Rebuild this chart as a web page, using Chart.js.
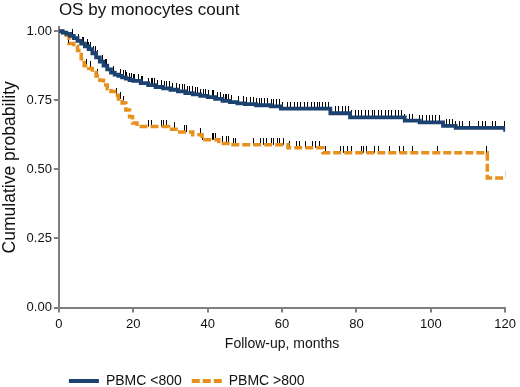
<!DOCTYPE html>
<html><head><meta charset="utf-8">
<script src="https://cdn.jsdelivr.net/npm/chart.js@4/dist/chart.umd.min.js"></script>
<style>html,body{margin:0;padding:0;background:#fff}canvas{display:block}</style>
</head><body>
<canvas id="c" width="520" height="387"></canvas>
<script>
// ---- data ----
const xTicks = [0, 20, 40, 60, 80, 100, 120];
const yTicks = [0, 0.25, 0.5, 0.75, 1];
const seriesNames = ['PBMC <800', 'PBMC >800'];

const blueTimes = [0,1,2,3,4,5,6,7,8,9,10,11,12,13,14,15,16,17,18,19,20,22,24,26,28,30,32,34,36,38,40,42,44,46,48,50,53,57,59.7,73,78.3,93,97,103.3,106.7,120];
const blueSurv  = [1,0.995,0.99,0.983,0.975,0.965,0.955,0.945,0.935,0.92,0.905,0.89,0.875,0.862,0.85,0.843,0.838,0.833,0.828,0.823,0.82,0.812,0.805,0.798,0.793,0.788,0.782,0.776,0.771,0.766,0.761,0.755,0.748,0.743,0.739,0.736,0.732,0.728,0.72,0.703,0.688,0.676,0.670,0.657,0.650,0.636];
const blueCensor = [3.6,5.4,6.3,6.7,7.6,8.0,8.5,9.4,9.8,10.3,11.6,12.5,12.9,14.7,16.5,17.3,17.8,18.2,19.1,19.6,20.0,20.4,21.3,22.2,22.6,24.0,24.9,25.3,25.7,26.6,27.5,28.4,28.8,29.7,30.6,31.5,32.4,33.3,33.7,34.6,35.0,35.9,36.8,37.2,38.1,39.0,39.5,40.3,41.2,41.7,42.6,43.4,44.3,44.7,45.2,45.6,46.5,48.3,49.6,50.5,51.4,52.3,53.2,54.0,54.5,55.4,56.2,57.1,57.6,58.5,59.3,60.2,61.6,62.4,63.3,64.2,65.1,66.0,66.9,67.8,68.6,69.5,70.0,70.9,71.8,72.6,74.4,75.3,76.2,77.1,78.0,78.8,79.7,80.6,81.5,82.4,83.3,84.2,85.0,85.9,86.8,87.7,88.6,89.5,90.4,91.2,92.1,93.0,94.3,95.2,97.0,97.9,98.8,99.7,100.5,101.4,102.3,104.1,105.0,105.9,106.7,107.6,108.5,110.3,112.9,113.8,114.7,116.5,117.4,119.9];

const orangeTimes = [0,1,2,2.7,4,5,6,6.8,8,9,10,11,12,13,14,15,16,17,18,19,19.8,21,29.5,32.5,36,38.5,43,46,61.6,71,115.2,120];
const orangeSurv  = [1,0.995,0.985,0.955,0.945,0.93,0.9,0.875,0.865,0.85,0.838,0.822,0.805,0.792,0.782,0.768,0.755,0.74,0.715,0.69,0.668,0.655,0.645,0.635,0.625,0.607,0.594,0.589,0.578,0.56,0.469,0.469];
const orangeCensor = [2.7,7.5,8.5,10.4,15.5,16.5,17.5,24.0,24.9,27.5,28.0,28.9,31.1,33.7,34.2,38.1,38.6,41.2,41.7,42.1,43.9,45.2,45.7,47.0,47.4,52.3,54.1,55.0,55.8,57.2,57.6,58.9,59.4,60.3,62.0,63.8,64.7,66.4,68.2,69.1,70.0,71.8,75.7,76.6,77.5,78.8,81.5,81.9,82.8,85.0,85.9,89.0,91.7,92.6,95.2,101.9,115.1,120];

// ---- helpers ----
const FONT = "'Liberation Sans', Arial, sans-serif";
const BLUE = '#1c426f';
const ORANGE = '#e8901e';
const AX = '#7f7f7f';
const TXT = '#111111';

function toXY(ts, ss) { return ts.map((t, i) => ({x: t, y: ss[i]})); }
function survAt(ts, ss, t) { let s = ss[0]; for (let i = 0; i < ts.length; i++) { if (ts[i] <= t) s = ss[i]; else break; } return s; }
function makeTick(h) {
  const c = document.createElement('canvas');
  c.width = 1; c.height = h * 2;
  const g = c.getContext('2d');
  g.fillStyle = '#000';
  g.fillRect(0, 0, 1, h);
  return c;
}
const tickImg = makeTick(7);

Chart.defaults.font.family = FONT;

new Chart(document.getElementById('c'), {
  type: 'line',
  data: {
    datasets: [
      {label: seriesNames[0], data: toXY(blueTimes, blueSurv), borderColor: BLUE, backgroundColor: BLUE, borderWidth: 3.8, stepped: true, pointRadius: 0, fill: false, order: 0},
      {label: seriesNames[1], data: toXY(orangeTimes, orangeSurv), borderColor: ORANGE, backgroundColor: ORANGE, borderWidth: 3.5, borderDash: [8, 3], stepped: true, pointRadius: 0, fill: false, order: 0},
      {label: 'c1', data: blueCensor.map(t => ({x: t, y: survAt(blueTimes, blueSurv, t)})), showLine: false, pointStyle: tickImg, pointRadius: 7, order: 1},
      {label: 'c2', data: orangeCensor.map(t => ({x: t, y: survAt(orangeTimes, orangeSurv, t)})), showLine: false, pointStyle: tickImg, pointRadius: 7, order: 1}
    ]
  },
  options: {
    responsive: false,
    animation: false,
    devicePixelRatio: 1,
    layout: {padding: 0},
    plugins: {
      title: {display: true, text: 'OS by monocytes count', align: 'start', fullSize: false, color: TXT, font: {size: 17, weight: 'normal'}, padding: {top: 0, bottom: 6.6}},
      legend: {
        position: 'bottom', fullSize: false, align: 'start', maxHeight: 23,
        labels: {
          usePointStyle: true, pointStyle: 'line', pointStyleWidth: 30, padding: 10, color: TXT, font: {size: 14},
          generateLabels: chart => [0, 1].map(i => {
            const d = chart.data.datasets[i];
            return {text: d.label, strokeStyle: d.borderColor, fillStyle: d.borderColor, lineWidth: 4, lineDash: d.borderDash || [], pointStyle: 'line', hidden: false, datasetIndex: i, fontColor: TXT};
          })
        }
      },
      tooltip: {enabled: false}
    },
    scales: {
      x: {
        type: 'linear', min: 0, max: 120,
        afterBuildTicks: s => { s.ticks = xTicks.map(v => ({value: v})); },
        grid: {drawOnChartArea: false, drawTicks: true, tickLength: 5, color: AX, lineWidth: 2},
        border: {display: true, color: AX, width: 2},
        ticks: {color: TXT, font: {size: 13}, padding: 4, maxRotation: 0},
        title: {display: true, text: 'Follow-up, months', color: TXT, font: {size: 14}, padding: {top: 0, bottom: 11}}
      },
      y: {
        type: 'linear', min: 0, max: 1.015,
        afterBuildTicks: s => { s.ticks = yTicks.map(v => ({value: v})); },
        grid: {drawOnChartArea: false, drawTicks: true, tickLength: 5, color: AX, lineWidth: 2},
        border: {display: true, color: AX, width: 2},
        ticks: {color: TXT, font: {size: 13}, padding: 2, callback: v => Number(v).toFixed(2)},
        title: {display: true, text: 'Cumulative probability', color: TXT, font: {size: 17.5}, padding: {top: 0, bottom: 3.6}}
      }
    }
  }
});
</script>
</body></html>
